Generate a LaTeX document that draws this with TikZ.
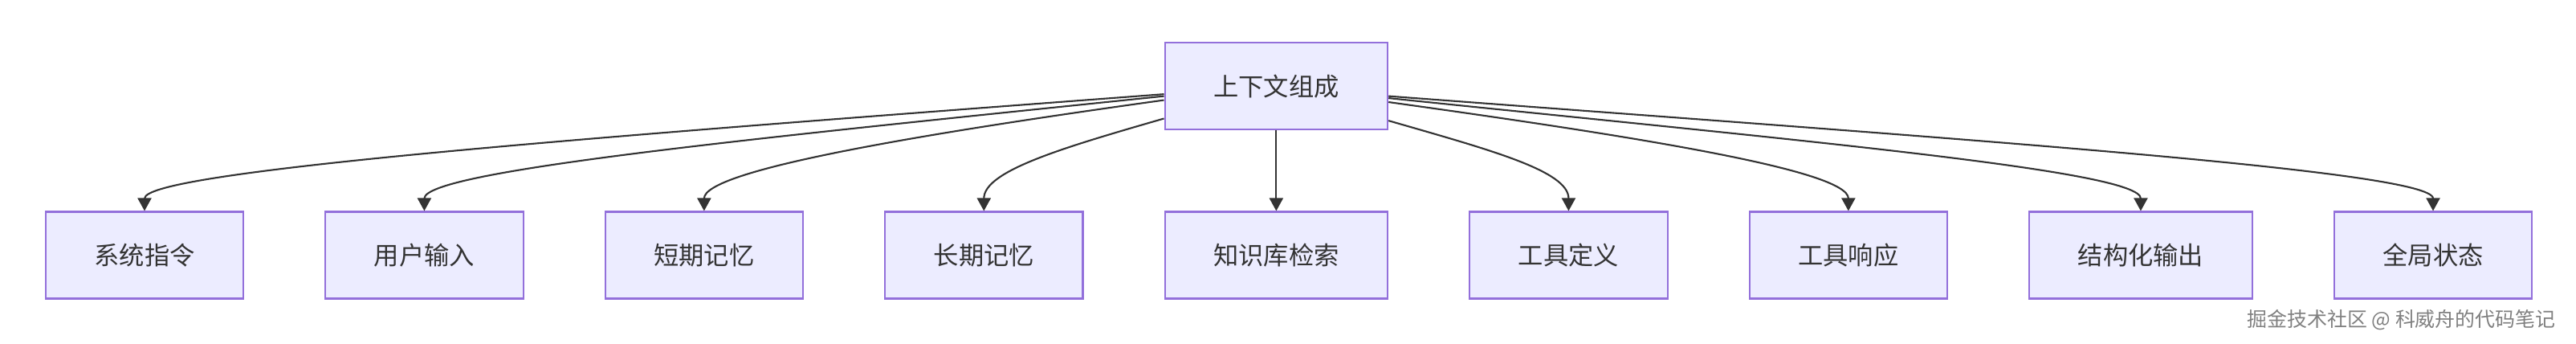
\documentclass[tikz,border=0pt]{standalone}
\usepackage{fontspec}
\newfontfamily\cjk{Noto Sans CJK SC}
\usepackage{tikz}
\usetikzlibrary{arrows.meta}
\usetikzlibrary{positioning}
\definecolor{boxfill}{HTML}{ECECFF}
\definecolor{boxline}{HTML}{9370DB}
\definecolor{inkgray}{HTML}{333333}
\tikzset{
    link/.style={
        -{Triangle[length=0.16cm,width=0.17cm]},
        line width=0.6pt,
        draw=inkgray
    }
}

\begin{document}
\begin{tikzpicture}[
node distance=1cm,
part/.style={rectangle, draw=boxline, fill=boxfill, line width=0.6pt, text=inkgray,
  inner xsep=0.606cm, minimum height=1.08cm, font=\cjk\fontsize{8.9}{10.7}\selectfont}
]
\useasboundingbox (0,0) rectangle (32.08,4.28);
\node[part] (n1) at (1.80,1.105) {系统指令};
\node[part, right=of n1] (n2) {用户输入};
\node[part, right=of n2] (n3) {短期记忆};
\node[part, right=of n3] (n4) {长期记忆};
\node[part, right=of n4] (n5) {知识库检索};
\node[part, right=of n5] (n6) {工具定义};
\node[part, right=of n6] (n7) {工具响应};
\node[part, right=of n7] (n8) {结构化输出};
\node[part, right=of n8] (n9) {全局状态};
\node[part, above=of n5] (top) {上下文组成};
\draw[link] (top.184.3) .. controls +(184.3:7.0) and +(90:0.5) .. (n1.north);
\draw[link] (top.185.9) .. controls +(185.9:5.1) and +(90:0.5) .. (n2.north);
\draw[link] (top.187.9) .. controls +(187.9:3.2) and +(90:0.5) .. (n3.north);
\draw[link] (top.196.1) .. controls +(196.1:1.3) and +(90:0.5) .. (n4.north);
\draw[link] (top) -- (n5);
\draw[link] (top.343.9) .. controls +(343.9:1.3) and +(90:0.5) .. (n6.north);
\draw[link] (top.352.1) .. controls +(352.1:3.2) and +(90:0.5) .. (n7.north);
\draw[link] (top.354.1) .. controls +(354.1:5.2) and +(90:0.5) .. (n8.north);
\draw[link] (top.355.7) .. controls +(355.7:7.15) and +(90:0.5) .. (n9.north);
\node[anchor=east, text=gray, font=\cjk\fontsize{7.1}{8.5}\selectfont] (mark) at (31.95,0.30) {掘金技术社区 @ 科威舟的代码笔记};
\end{tikzpicture}
\end{document}
